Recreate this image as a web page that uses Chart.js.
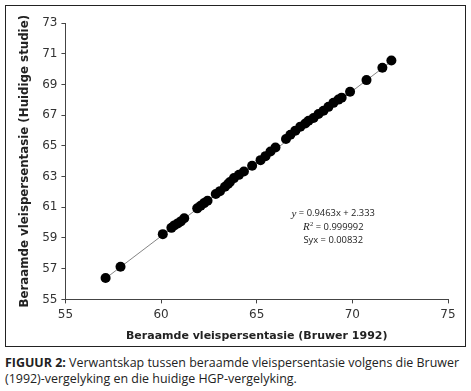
<!DOCTYPE html>
<html>
<head>
<meta charset="utf-8">
<script src="https://cdn.jsdelivr.net/npm/chart.js@4.4.0/dist/chart.umd.min.js"></script>
<style>
    html, body { margin: 0; padding: 0; background: #fff; }
    body { width: 471px; height: 391px; position: relative; overflow: hidden; }
    #box {
        position: absolute; left: 5px; top: 5px; width: 461px; height: 342px;
        box-sizing: border-box; border: 1.5px solid #222;
    }
    #box canvas { display: block; }
    #caption {
        position: absolute; left: 5px; top: 355px; width: 470px;
        font-family: "Open Sans", sans-serif; font-size: 12.45px; line-height: 15.5px; color: #222;
        white-space: nowrap;
    }
    #caption b { font-weight: 700; }
</style>
</head>
<body>
<div id="box"><canvas id="chart" width="458" height="339"></canvas></div>
<div id="caption"><b>FIGUUR 2:</b> Verwantskap tussen beraamde vleispersentasie volgens die Bruwer<br>(1992)-vergelyking en die huidige HGP-vergelyking.</div>
<script>
// Bruwer 1992 (x) teenoor huidige studie (y)
const bruwer = [57.10, 57.88, 60.09, 60.54, 60.69, 60.87, 61.03, 61.21, 61.89, 62.07,
    62.25, 62.43, 62.86, 63.08, 63.34, 63.50, 63.60, 63.81, 64.07, 64.33,
    64.76, 65.20, 65.46, 65.72, 65.98, 66.53, 66.76, 67.02, 67.28, 67.54,
    67.71, 67.97, 68.23, 68.49, 68.75, 69.01, 69.27, 69.44, 69.88, 70.74,
    71.57, 72.04];
const huidige = [56.39, 57.13, 59.25, 59.66, 59.82, 59.95, 60.08, 60.28, 60.93, 61.10,
    61.27, 61.43, 61.86, 62.05, 62.34, 62.51, 62.64, 62.90, 63.11, 63.33,
    63.70, 64.07, 64.33, 64.63, 64.89, 65.44, 65.72, 65.99, 66.25, 66.46,
    66.63, 66.81, 67.07, 67.28, 67.54, 67.80, 68.01, 68.14, 68.52, 69.28,
    70.08, 70.56];
const trendX = [57.10, 72.04];
const trendY = [56.37, 70.50];

const xTicks = [55, 60, 65, 70, 75];
const yTicks = [55, 57, 59, 61, 63, 65, 67, 69, 71, 73];

const xTitle = "Beraamde vleispersentasie (Bruwer 1992)";
const yTitle = "Beraamde vleispersentasie (Huidige studie)";
const eqLines = [" = 0.9463x + 2.333", " = 0.999992", "Syx = 0.00832"];

const points = bruwer.map((x, i) => ({x: x, y: huidige[i]}));
const trend = trendX.map((x, i) => ({x: x, y: trendY[i]}));

// vergelyking teks in die grafiek
const equationPlugin = {
    id: "equation",
    afterDatasetsDraw(chart) {
        const c = chart.ctx;
        const cx = chart.scales.x.getPixelForValue(69.0);
        const y0 = chart.scales.y.getPixelForValue(60.58);
        const sans = "9.4px 'Open Sans'";
        const ital = "italic 11px 'Liberation Serif'";
        const sup = "6.5px 'Liberation Serif'";
        c.save();
        c.fillStyle = "#222";
        c.textBaseline = "middle";
        c.textAlign = "left";

        // line 1
        c.font = ital;
        let w1 = c.measureText("y").width;
        c.font = sans;
        let w2 = c.measureText(eqLines[0]).width;
        let x = cx - (w1 + w2) / 2;
        c.font = ital;
        c.fillText("y", x, y0);
        c.font = sans;
        c.fillText(eqLines[0], x + w1, y0);

        // line 2
        const y1 = y0 + 13.4;
        c.font = ital;
        w1 = c.measureText("R").width;
        c.font = sup;
        const ws = c.measureText("2").width + 0.5;
        c.font = sans;
        w2 = c.measureText(eqLines[1]).width;
        x = cx - (w1 + ws + w2) / 2;
        c.font = ital;
        c.fillText("R", x, y1);
        c.font = sup;
        c.fillText("2", x + w1 + 0.5, y1 - 3);
        c.font = sans;
        c.fillText(eqLines[1], x + w1 + ws, y1);

        // line 3
        const y2 = y1 + 13.4;
        c.textAlign = "center";
        c.fillText(eqLines[2], cx, y2);
        c.restore();
    }
};

const axisStyle = {
    grid: {display: true, drawOnChartArea: false, drawTicks: true, tickLength: 4, color: "#444", lineWidth: 1},
    border: {display: true, color: "#444", width: 1}
};

new Chart(document.getElementById("chart"), {
    type: "scatter",
    data: {
        datasets: [
            {
                label: "trend",
                data: trend,
                showLine: true,
                borderColor: "#666",
                borderWidth: 0.8,
                pointRadius: 0,
                order: 2
            },
            {
                label: "data",
                data: points,
                backgroundColor: "#000",
                borderColor: "#000",
                pointRadius: 5,
                pointBorderWidth: 0,
                order: 1
            }
        ]
    },
    options: {
        responsive: false,
        animation: false,
        devicePixelRatio: 1,
        layout: {padding: {top: 17, right: 16, left: 12, bottom: 2}},
        plugins: {legend: {display: false}, tooltip: {enabled: false}},
        scales: {
            x: {
                type: "linear",
                min: 55, max: 75,
                afterBuildTicks: (axis) => { axis.ticks = xTicks.map(v => ({value: v})); },
                ticks: {color: "#333", font: {family: "DejaVu Sans", size: 12}, padding: 4, autoSkip: false, maxRotation: 0},
                title: {display: true, text: xTitle, color: "#222", font: {family: "DejaVu Sans", size: 11, weight: "bold"}, padding: {top: 4, bottom: 0}},
                ...axisStyle
            },
            y: {
                type: "linear",
                min: 55, max: 73,
                afterBuildTicks: (axis) => { axis.ticks = yTicks.map(v => ({value: v})); },
                ticks: {color: "#333", font: {family: "DejaVu Sans", size: 12}, padding: 4, autoSkip: false},
                title: {display: true, text: yTitle, color: "#222", font: {family: "DejaVu Sans", size: 11.8, weight: "bold"}, padding: {top: 0, bottom: 6}},
                ...axisStyle
            }
        }
    },
    plugins: [equationPlugin]
});
</script>
</body>
</html>
